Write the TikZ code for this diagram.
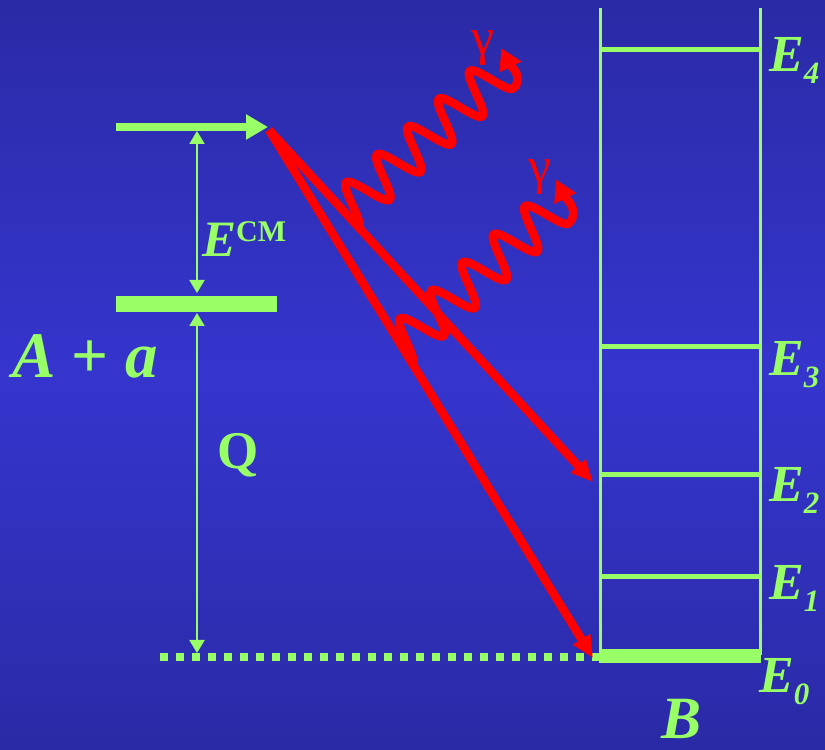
\documentclass[tikz,border=0pt]{standalone}
\usepackage{fontspec}
\setmainfont{Liberation Serif}
\usetikzlibrary{arrows.meta,positioning,calc}
\definecolor{bgdeep}{HTML}{2A2AA6}
\definecolor{bgmid}{HTML}{3535CE}
\definecolor{lime}{HTML}{99FF66}
\definecolor{redhot}{HTML}{FF0000}
\newcommand{\Elev}[1]{E\raisebox{-12pt}{\fontsize{31}{31}\selectfont #1}}
\tikzset{
  every node/.style={inner sep=0pt,text=lime},
  lvl/.style={draw=lime,line width=5pt},
  wall/.style={draw=lime,line width=3pt},
  gap/.style={draw=lime,line width=2pt,
              {Triangle[length=13pt,width=15pt]}-{Triangle[length=13pt,width=15pt]}},
  trans/.style={draw=redhot,line width=8.5pt,-{Triangle[length=22pt,width=19pt]}},
  photon/.style={draw=redhot,line width=8.5pt,line cap=round,line join=round,
                 -{Triangle[length=21pt,width=23pt]}},
  lab/.style={anchor=base west,font=\fontsize{52}{52}\selectfont\bfseries\itshape},
  glab/.style={anchor=base,text=redhot,font=\fontsize{52}{52}\selectfont},
}

\begin{document}
\begin{tikzpicture}[x=1pt,y=1pt]
\useasboundingbox (0,0) rectangle (825,750);
\shade[top color=bgdeep,bottom color=bgdeep,middle color=bgmid] (0,0) rectangle (825,750);

% entrance channel A + a
\coordinate (inL) at (116,623);
\coordinate (inR) at (268,623);
\coordinate (gsL) at (116,446);
\coordinate (gsR) at (277,446);
\draw[draw=lime,line width=8pt,-{Triangle[length=22pt,width=24pt]}] (inL) -- (inR);
\draw[draw=lime,line width=16pt] (gsL) -- (gsR);
\coordinate (cmT) at (197,619);
\coordinate (cmB) at (197,457);
\coordinate (qT) at (197,437);
\coordinate (qB) at (197,97);
\draw[gap] (cmT) -- (cmB);
\draw[gap] (qT) -- (qB);
\coordinate (dotL) at (160,93);
\coordinate (dotR) at (599,93);
\draw[draw=lime,line width=8pt,dash pattern=on 7.5pt off 8.5pt] (dotL) -- (dotR);

\node[anchor=base west,font=\fontsize{51}{51}\selectfont\bfseries\itshape] (ecm) at (202,493)
  {E\raisebox{15pt}{\fontsize{30}{30}\selectfont\upshape CM}};
\node[anchor=base west,font=\fontsize{65}{65}\selectfont\bfseries\itshape] (aa) at (12,372)
  {A {\upshape +} a};
\node[anchor=base west,font=\fontsize{53}{53}\selectfont\bfseries] (q) at (217,281) {Q};

% nucleus B
\coordinate (wlT) at (600,742);
\coordinate (wlB) at (600,95);
\coordinate (wrT) at (760,742);
\coordinate (wrB) at (760,95);
\draw[wall] (wlT) -- (wlB);
\draw[wall] (wrT) -- (wrB);
\foreach \n/\y in {4/700,3/403,2/275,1/173}{
  \coordinate (e\n l) at (600,\y);
  \coordinate (e\n r) at (760,\y);
  \draw[lvl] (e\n l) -- (e\n r);
}
\coordinate (e0l) at (599,94);
\coordinate (e0r) at (761,94);
\draw[draw=lime,line width=14pt] (e0l) -- (e0r);

\node[lab] (le4) at (769,678) {\Elev{4}};
\node[lab] (le3) at (769,374) {\Elev{3}};
\node[lab] (le2) at (769,248) {\Elev{2}};
\node[lab] (le1) at (769,150) {\Elev{1}};
\node[lab] (le0) at (759,57) {\Elev{0}};
\node[anchor=base,font=\fontsize{60}{60}\selectfont\bfseries\itshape] (bb) at (682,11) {B};

% transitions
\coordinate (src) at (269,620);
\coordinate (hit2) at (593,268);
\coordinate (hit0) at (593,92);
\draw[trans] (src) -- (hit2);
\draw[trans] (src) -- (hit0);

% gamma rays
\coordinate (g1) at ($(src)!0.277!(hit2)$);
\coordinate (g2) at ($(src)!0.443!(hit0)$);
\begin{scope}[shift={(g1)},rotate=42]
  \coordinate (g1tip) at (226,38);
  \draw[photon] plot[domain=0:5,samples=201] ({41.6*\x},{21-21*cos(360*\x)})
    to[out=0,in=254] (g1tip);
\end{scope}
\begin{scope}[shift={(g2)},rotate=42]
  \coordinate (g2tip) at (230,41);
  \draw[photon] plot[domain=0:5,samples=201] ({42*\x},{21-21*cos(360*\x)})
    to[out=0,in=254] (g2tip);
\end{scope}
\node[glab] (gam1) at (483,695) {γ};
\node[glab] (gam2) at (540,566) {γ};
\end{tikzpicture}
\end{document}
